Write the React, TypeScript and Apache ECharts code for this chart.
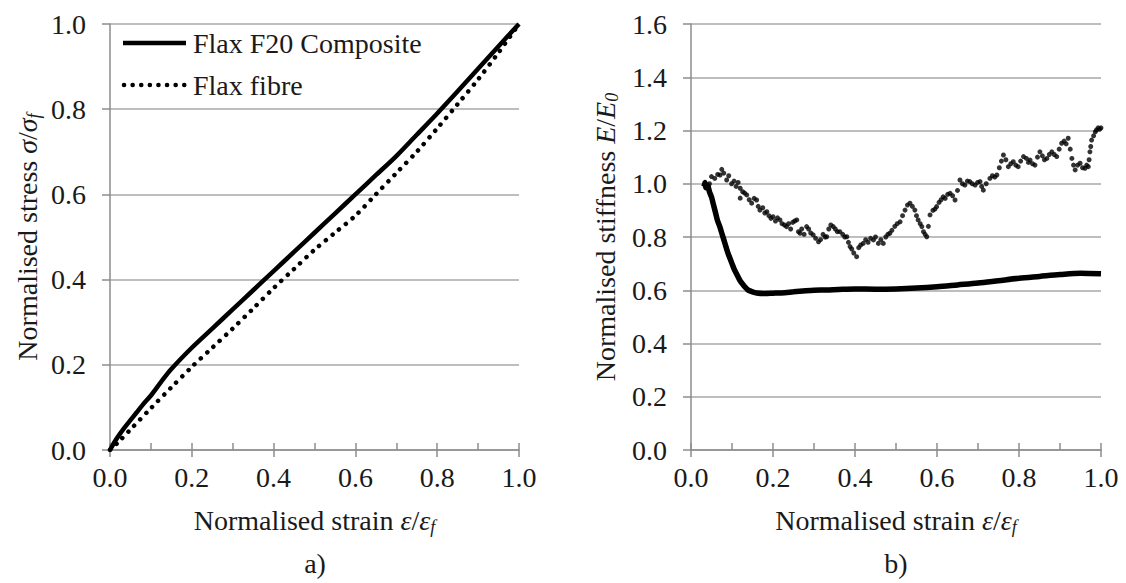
import React, { useEffect, useRef } from "react";
import * as echarts from "echarts";

// ---------- data ----------
// a) normalised stress vs normalised strain
const compStrain = [0, 0.01, 0.02, 0.035, 0.05, 0.065, 0.08, 0.1, 0.125, 0.15, 0.2, 0.25, 0.3, 0.35, 0.4, 0.45, 0.5, 0.55, 0.6, 0.65, 0.7, 0.75, 0.8, 0.85, 0.9, 0.95, 1.0];
const compStress = [0, 0.017, 0.032, 0.052, 0.07, 0.088, 0.106, 0.128, 0.16, 0.19, 0.24, 0.285, 0.33, 0.375, 0.42, 0.465, 0.51, 0.555, 0.6, 0.645, 0.69, 0.74, 0.79, 0.842, 0.895, 0.948, 1.0];
const fibreStrain = [0, 0.02, 0.05, 0.1, 0.15, 0.2, 0.25, 0.3, 0.35, 0.4, 0.45, 0.5, 0.55, 0.6, 0.65, 0.7, 0.75, 0.8, 0.85, 0.9, 0.95, 1.0];
const fibreStress = [0, 0.018, 0.048, 0.098, 0.147, 0.195, 0.24, 0.285, 0.332, 0.38, 0.425, 0.47, 0.51, 0.55, 0.6, 0.65, 0.7, 0.755, 0.812, 0.87, 0.933, 1.0];

// b) normalised stiffness vs normalised strain
const compStiffStrain = [0.032, 0.034, 0.036, 0.04, 0.045, 0.05, 0.055, 0.06, 0.065, 0.07, 0.075, 0.08, 0.085, 0.09, 0.095, 0.1, 0.105, 0.11, 0.115, 0.12, 0.125, 0.13, 0.135, 0.14, 0.15, 0.16, 0.18, 0.2, 0.22, 0.25, 0.28, 0.3, 0.33, 0.36, 0.4, 0.45, 0.5, 0.55, 0.6, 0.65, 0.7, 0.75, 0.8, 0.85, 0.9, 0.95, 1.0];
const compStiff = [0.99, 1.005, 0.985, 0.995, 0.97, 0.95, 0.92, 0.89, 0.86, 0.84, 0.815, 0.79, 0.765, 0.74, 0.72, 0.7, 0.68, 0.665, 0.65, 0.635, 0.625, 0.615, 0.607, 0.6, 0.594, 0.59, 0.588, 0.589, 0.59, 0.594, 0.598, 0.6, 0.601, 0.603, 0.605, 0.604, 0.605, 0.608, 0.613, 0.62, 0.627, 0.636, 0.645, 0.652, 0.659, 0.664, 0.662];

const fibreStiffStrain = [0.045, 0.05, 0.058, 0.065, 0.071, 0.075, 0.08, 0.087, 0.092, 0.099, 0.105, 0.11, 0.115, 0.12, 0.12, 0.126, 0.131, 0.136, 0.142, 0.148, 0.154, 0.16, 0.164, 0.168, 0.175, 0.18, 0.185, 0.19, 0.195, 0.2, 0.206, 0.211, 0.217, 0.222, 0.228, 0.233, 0.238, 0.243, 0.248, 0.253, 0.258, 0.262, 0.266, 0.27, 0.276, 0.282, 0.287, 0.292, 0.298, 0.304, 0.311, 0.316, 0.322, 0.327, 0.331, 0.336, 0.341, 0.347, 0.352, 0.357, 0.363, 0.37, 0.375, 0.38, 0.384, 0.388, 0.392, 0.397, 0.404, 0.409, 0.414, 0.42, 0.426, 0.432, 0.438, 0.445, 0.45, 0.457, 0.463, 0.469, 0.475, 0.48, 0.485, 0.49, 0.497, 0.503, 0.51, 0.516, 0.522, 0.528, 0.534, 0.54, 0.546, 0.55, 0.554, 0.559, 0.563, 0.567, 0.571, 0.575, 0.579, 0.583, 0.59, 0.595, 0.599, 0.605, 0.61, 0.615, 0.62, 0.626, 0.632, 0.638, 0.644, 0.65, 0.656, 0.662, 0.668, 0.674, 0.68, 0.686, 0.693, 0.699, 0.705, 0.709, 0.713, 0.72, 0.729, 0.735, 0.741, 0.746, 0.752, 0.757, 0.762, 0.768, 0.774, 0.78, 0.786, 0.792, 0.798, 0.804, 0.811, 0.818, 0.823, 0.827, 0.833, 0.839, 0.845, 0.851, 0.857, 0.862, 0.868, 0.874, 0.88, 0.886, 0.892, 0.898, 0.904, 0.91, 0.915, 0.92, 0.925, 0.929, 0.933, 0.937, 0.943, 0.949, 0.955, 0.961, 0.965, 0.969, 0.971, 0.973, 0.975, 0.977, 0.982, 0.986, 0.989, 0.993, 0.997, 1.0];
const fibreStiff = [1.0, 1.027, 1.02, 1.035, 1.033, 1.054, 1.04, 1.014, 1.03, 1.0, 1.01, 0.99, 1.005, 0.983, 0.946, 0.97, 0.965, 0.958, 0.94, 0.927, 0.945, 0.939, 0.915, 0.901, 0.91, 0.89, 0.895, 0.88, 0.87, 0.876, 0.86, 0.872, 0.864, 0.85, 0.845, 0.839, 0.85, 0.83, 0.855, 0.86, 0.864, 0.82, 0.814, 0.83, 0.81, 0.839, 0.83, 0.815, 0.808, 0.795, 0.782, 0.79, 0.81, 0.8, 0.801, 0.83, 0.845, 0.839, 0.83, 0.82, 0.82, 0.81, 0.8, 0.801, 0.78, 0.764, 0.755, 0.74, 0.726, 0.76, 0.77, 0.776, 0.79, 0.78, 0.795, 0.789, 0.8, 0.776, 0.79, 0.776, 0.8, 0.81, 0.814, 0.825, 0.84, 0.85, 0.857, 0.88, 0.901, 0.92, 0.927, 0.915, 0.901, 0.88, 0.864, 0.85, 0.839, 0.82, 0.81, 0.801, 0.84, 0.883, 0.9, 0.905, 0.914, 0.93, 0.94, 0.951, 0.945, 0.96, 0.964, 0.955, 0.939, 0.975, 1.014, 1.0, 0.995, 1.01, 1.008, 1.0, 0.995, 1.005, 1.008, 0.99, 0.976, 1.0, 1.02, 1.03, 1.025, 1.033, 1.06, 1.085, 1.108, 1.09, 1.064, 1.075, 1.083, 1.07, 1.064, 1.085, 1.102, 1.095, 1.08, 1.089, 1.075, 1.07, 1.1, 1.12, 1.105, 1.09, 1.095, 1.11, 1.12, 1.11, 1.102, 1.13, 1.152, 1.16, 1.15, 1.171, 1.13, 1.095, 1.07, 1.052, 1.07, 1.077, 1.06, 1.058, 1.07, 1.064, 1.09, 1.12, 1.14, 1.164, 1.18, 1.195, 1.202, 1.21, 1.205, 1.21];

const legendNames = ["Flax F20 Composite", "Flax fibre"];
const panelLabels = ["a)", "b)"];

// ---------- styles ----------
const FONT = "Liberation Serif";
const FS = 28;
const TXT = "#1a1a1a";
const AXIS = "#8c8c8c";
const GRID = "#a8a8a8";

const rich = {
  n: { fontFamily: FONT, fontSize: FS, color: TXT },
  i: { fontFamily: FONT, fontSize: FS, fontStyle: "italic", color: TXT },
  s: { fontFamily: FONT, fontSize: 18, fontStyle: "italic", color: TXT, padding: [14, 0, 0, 0] },
};

const zip = (a: number[], b: number[]) => a.map((v, k) => [v, b[k]]);

function mainX(gridIndex: number) {
  return {
    type: "value",
    gridIndex,
    position: "bottom",
    min: 0,
    max: 1,
    interval: 0.2,
    axisLine: { show: true, lineStyle: { color: AXIS, width: 1.5 } },
    axisTick: { show: true, inside: true, length: 7, lineStyle: { color: AXIS, width: 1.5 } },
    minorTick: { show: true, splitNumber: 2, length: 7, lineStyle: { color: AXIS, width: 1.5 } },
    splitLine: { show: false },
    axisLabel: {
      fontFamily: FONT,
      fontSize: FS,
      color: TXT,
      margin: 13,
      formatter: (v: number) => v.toFixed(1),
    },
    name: "{n|Normalised strain }{i|ε}{n|/}{i|ε}{s|f}",
    nameLocation: "middle",
    nameGap: 54,
    nameTextStyle: { rich },
  };
}

function overlayX(gridIndex: number) {
  return {
    type: "value",
    gridIndex,
    position: "bottom",
    min: 0,
    max: 1,
    interval: 0.2,
    axisLine: { show: false },
    axisTick: { show: true, inside: false, length: 7, lineStyle: { color: AXIS, width: 1.5 } },
    splitLine: { show: false },
    axisLabel: { show: false },
  };
}

function mainY(gridIndex: number, max: number, name: string, nameGap: number) {
  return {
    type: "value",
    gridIndex,
    min: 0,
    max,
    interval: 0.2,
    axisLine: { show: true, lineStyle: { color: AXIS, width: 1.5 } },
    axisTick: { show: true, inside: false, length: 8, lineStyle: { color: AXIS, width: 1.5 } },
    splitLine: { show: true, lineStyle: { color: GRID, width: 1.5 } },
    axisLabel: {
      fontFamily: FONT,
      fontSize: FS,
      color: TXT,
      margin: 24,
      formatter: (v: number) => v.toFixed(1),
    },
    name,
    nameLocation: "middle",
    nameGap,
    nameTextStyle: { rich },
  };
}

export default function App() {
  const ref = useRef<HTMLDivElement>(null);

  useEffect(() => {
    if (!ref.current) return;
    const chart = echarts.init(ref.current, null, { renderer: "svg" });
    const option = {
      animation: false,
      backgroundColor: "#ffffff",
      textStyle: { fontFamily: FONT },
      grid: [
        { left: 110, top: 24, width: 409, height: 426 },
        { left: 691, top: 24, width: 410, height: 426 },
      ],
      xAxis: [mainX(0), overlayX(0), mainX(1), overlayX(1)],
      yAxis: [
        mainY(0, 1, "{n|Normalised stress }{i|σ}{n|/}{i|σ}{s|f}", 67),
        mainY(1, 1.6, "{n|Normalised stiffness }{i|E}{n|/}{i|E}{s|0}", 70),
      ],
      series: [
        {
          name: legendNames[0],
          type: "line",
          xAxisIndex: 0,
          yAxisIndex: 0,
          data: zip(compStrain, compStress),
          showSymbol: false,
          symbol: "none",
          smooth: 0.3,
          lineStyle: { color: "#000", width: 4.5 },
        },
        {
          name: legendNames[1],
          type: "line",
          xAxisIndex: 0,
          yAxisIndex: 0,
          data: zip(fibreStrain, fibreStress),
          showSymbol: false,
          symbol: "none",
          smooth: 0.3,
          lineStyle: { color: "#000", width: 4.5, type: [0.1, 8.5], cap: "round" },
        },
        {
          name: "Composite stiffness",
          type: "line",
          xAxisIndex: 2,
          yAxisIndex: 1,
          data: zip(compStiffStrain, compStiff),
          showSymbol: false,
          symbol: "none",
          smooth: 0.3,
          lineStyle: { color: "#000", width: 5.5 },
        },
        {
          name: "Fibre stiffness",
          type: "scatter",
          xAxisIndex: 2,
          yAxisIndex: 1,
          data: zip(fibreStiffStrain, fibreStiff),
          symbol: "circle",
          symbolSize: 5,
          itemStyle: { color: "#000" },
        },
      ],
      graphic: [
        {
          type: "line",
          shape: { x1: 123, y1: 43, x2: 186, y2: 43 },
          style: { stroke: "#000", lineWidth: 4.5 },
        },
        {
          type: "text",
          x: 193,
          y: 43,
          style: { text: legendNames[0], fontFamily: FONT, fontSize: FS, fill: TXT, verticalAlign: "middle" },
        },
        {
          type: "line",
          shape: { x1: 124, y1: 85, x2: 186, y2: 85 },
          style: { stroke: "#000", lineWidth: 4.5, lineDash: [0.1, 8.5], lineCap: "round" },
        },
        {
          type: "text",
          x: 193,
          y: 85,
          style: { text: legendNames[1], fontFamily: FONT, fontSize: FS, fill: TXT, verticalAlign: "middle" },
        },
        {
          type: "text",
          x: 315,
          y: 563,
          style: { text: panelLabels[0], fontFamily: FONT, fontSize: FS, fill: TXT, align: "center", verticalAlign: "middle" },
        },
        {
          type: "text",
          x: 896,
          y: 563,
          style: { text: panelLabels[1], fontFamily: FONT, fontSize: FS, fill: TXT, align: "center", verticalAlign: "middle" },
        },
      ],
    };
    chart.setOption(option as any);
    return () => chart.dispose();
  }, []);

  return (
    <div
      ref={ref}
      style={{ position: "absolute", left: 0, top: 0, width: 1126, height: 583, background: "#fff" }}
    />
  );
}
